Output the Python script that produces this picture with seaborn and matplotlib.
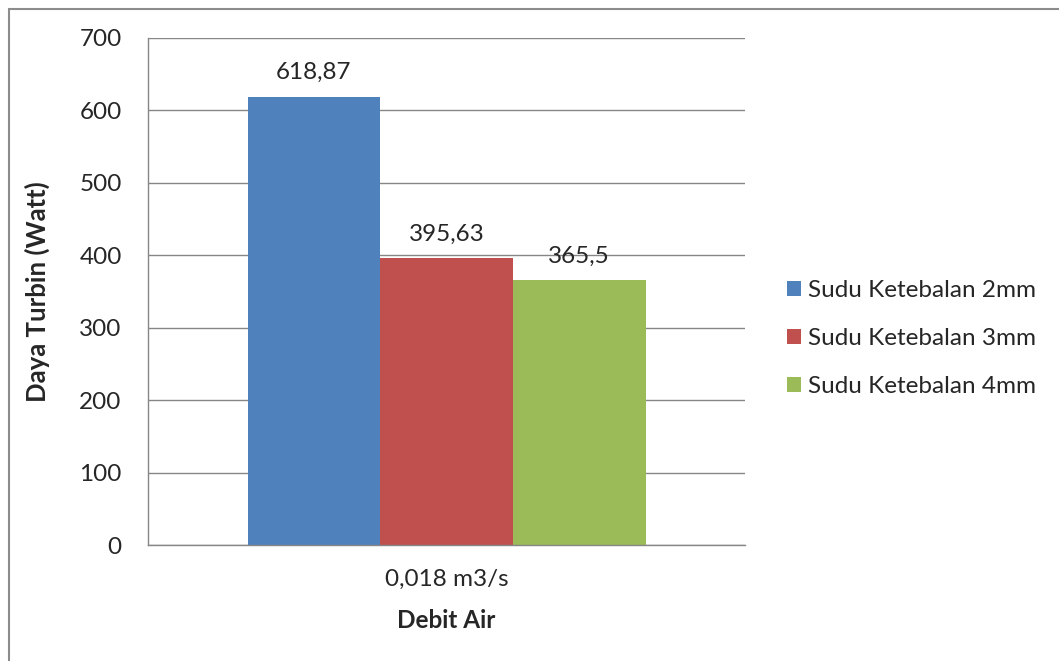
import matplotlib
matplotlib.use("Agg")
import matplotlib.pyplot as plt
from matplotlib.lines import Line2D
from matplotlib.ticker import MultipleLocator, FixedLocator
import seaborn as sns
import pandas as pd

# Data
categories = ["0,018 m3/s"]
series = ["Sudu Ketebalan 2mm", "Sudu Ketebalan 3mm", "Sudu Ketebalan 4mm"]
values = [618.87, 395.63, 365.5]
colors = ["#4F81BD", "#C0504D", "#9BBB59"]

df = pd.DataFrame({
    "debit": categories * len(series),
    "sudu": series,
    "daya": values,
})

sns.set_style("white")
plt.rcParams["font.family"] = ["Lato", "DejaVu Sans"]

FS = 17.5

fig = plt.figure(figsize=(10.59, 6.61), dpi=100)
ax = fig.add_axes([148 / 1059, 116 / 661, 597 / 1059, 507 / 661])

sns.barplot(data=df, x="debit", y="daya", hue="sudu", palette=colors,
            width=2 / 3, gap=0, saturation=1, ax=ax, legend=True,
            edgecolor="none", linewidth=0)

ax.set_xlim(-0.5, 0.5)
ax.set_ylim(0, 700)
ax.yaxis.set_major_locator(MultipleLocator(100))
ax.grid(axis="y", color="#868686", linewidth=1)
ax.set_axisbelow(True)

for s in ["top", "right"]:
    ax.spines[s].set_visible(False)
for s in ["left", "bottom"]:
    ax.spines[s].set_color("#868686")
    ax.spines[s].set_linewidth(1)

ax.tick_params(axis="y", which="major", direction="out", length=5,
               color="#868686", labelsize=FS, pad=14)
ax.tick_params(axis="x", which="major", length=0, labelsize=FS, pad=17)
ax.xaxis.set_minor_locator(FixedLocator([-0.5, 0.5]))
ax.tick_params(axis="x", which="minor", direction="out", length=5,
               color="#868686")

ax.set_xlabel("Debit Air", fontsize=FS, fontweight="bold", labelpad=14)
ax.set_ylabel("Daya Turbin (Watt)", fontsize=18.5, fontweight="bold",
              labelpad=21)

for cont, v in zip(ax.containers, values):
    ax.bar_label(cont, labels=[f"{v:g}".replace(".", ",")], padding=10,
                 fontsize=FS)

handles, labels = ax.get_legend_handles_labels()
ax.legend(handles, labels, loc="center left", bbox_to_anchor=(1.07, 0.407),
          frameon=False, fontsize=FS, handlelength=0.58, handleheight=0.58,
          handletextpad=0.29, labelspacing=1.12, borderpad=0,
          borderaxespad=0)

# Outer chart frame (left and top edges)
fig.add_artist(Line2D([8.5 / 1059, 8.5 / 1059], [0, 1 - 8.5 / 661],
                      transform=fig.transFigure, color="#8c8c8c", linewidth=1.5))
fig.add_artist(Line2D([8.5 / 1059, 1], [1 - 8.5 / 661, 1 - 8.5 / 661],
                      transform=fig.transFigure, color="#8c8c8c", linewidth=1.5))

fig.savefig("out.png", dpi=100)
